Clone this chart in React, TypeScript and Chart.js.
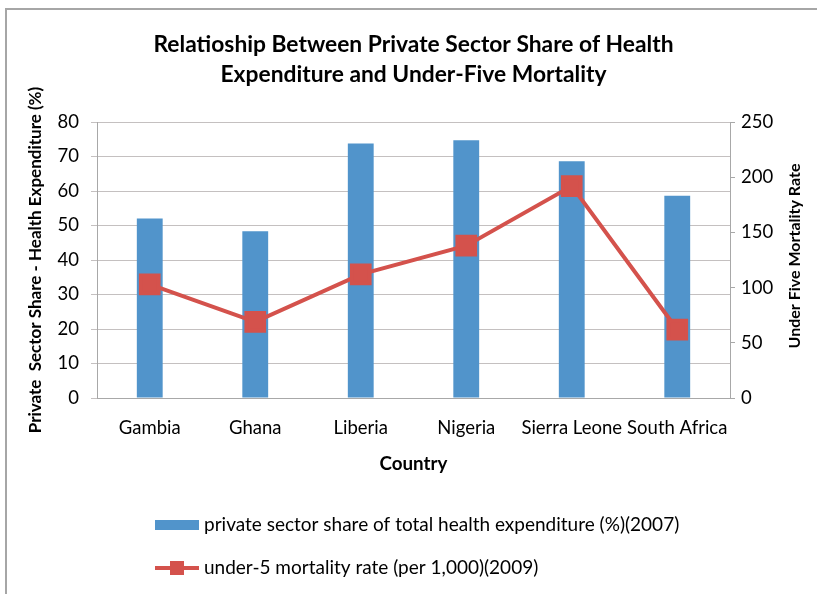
import React, { useEffect, useRef } from 'react';
import { Chart, registerables } from 'chart.js';

Chart.register(...registerables);

const categories = ['Gambia', 'Ghana', 'Liberia', 'Nigeria', 'Sierra Leone', 'South Africa'];
const privateShare = [52, 48.3, 73.8, 74.7, 68.6, 58.6];
const under5Mortality = [103, 69, 112, 138, 192, 62];
const titleLines = ['Relatioship Between Private Sector Share of Health', 'Expenditure and Under-Five Mortality'];
const leftAxisTitle = 'Private  Sector Share - Health Expenditure (%)';
const rightAxisTitle = 'Under Five Mortality Rate';
const xAxisTitle = 'Country';
const barLabel = 'private sector share of total health expenditure (%)(2007)';
const lineLabel = 'under-5 mortality rate (per 1,000)(2009)';

const FONT = 'Lato';
const BAR_COLOR = '#5194cb';
const LINE_COLOR = '#d4524c';
const AXIS_COLOR = '#a8a8a8';
const GRID_COLOR = '#c4c0c0';

const decorPlugin = {
  id: 'decor',
  beforeDraw(chart: any) {
    const ctx = chart.ctx;
    ctx.save();
    ctx.fillStyle = '#a6a6a6';
    ctx.fillRect(5, 8, 2, chart.height - 8);
    ctx.fillRect(5, 8, chart.width - 5, 2);
    ctx.restore();
  },
  afterDraw(chart: any) {
    const ctx = chart.ctx;
    const area = chart.chartArea;
    const y1 = chart.scales.y1;
    ctx.save();
    // right axis title (reads bottom to top)
    ctx.translate(y1.left + 65, (area.top + area.bottom) / 2 - 4);
    ctx.rotate(-Math.PI / 2);
    ctx.font = `bold 16px ${FONT}`;
    ctx.fillStyle = '#000';
    ctx.textAlign = 'center';
    ctx.textBaseline = 'middle';
    ctx.fillText(rightAxisTitle, 0, 0);
    ctx.restore();

    // legend
    const ds = chart.data.datasets;
    const lx = area.left + 58;
    const ly1 = area.bottom + 127;
    const ly2 = area.bottom + 170;
    ctx.save();
    ctx.font = `19px ${FONT}`;
    ctx.textAlign = 'left';
    ctx.textBaseline = 'middle';
    ctx.fillStyle = ds[0].backgroundColor;
    ctx.fillRect(lx, ly1 - 5, 44, 10);
    ctx.strokeStyle = ds[1].borderColor;
    ctx.lineWidth = 4;
    ctx.beginPath();
    ctx.moveTo(lx, ly2);
    ctx.lineTo(lx + 44, ly2);
    ctx.stroke();
    ctx.fillStyle = ds[1].pointBackgroundColor;
    ctx.fillRect(lx + 22 - 7, ly2 - 7, 14, 14);
    ctx.fillStyle = '#000';
    ctx.fillText(ds[0].label, lx + 49, ly1);
    ctx.fillText(ds[1].label, lx + 49, ly2);
    ctx.restore();
  },
};

export default function App() {
  const ref = useRef<HTMLCanvasElement | null>(null);
  useEffect(() => {
    if (!ref.current) return;
    const tickFont = { family: FONT, size: 18.5, lineHeight: 1.2 };
    const chart = new Chart(ref.current, {
      type: 'bar',
      data: {
        labels: categories,
        datasets: [
          {
            type: 'bar',
            label: barLabel,
            data: privateShare,
            backgroundColor: BAR_COLOR,
            borderWidth: 0,
            yAxisID: 'y',
            barPercentage: 0.245,
            categoryPercentage: 1,
            order: 2,
          },
          {
            type: 'line',
            label: lineLabel,
            data: under5Mortality,
            borderColor: LINE_COLOR,
            backgroundColor: LINE_COLOR,
            pointBackgroundColor: LINE_COLOR,
            pointBorderColor: LINE_COLOR,
            pointStyle: 'rect',
            pointRadius: 12.5,
            borderWidth: 4,
            yAxisID: 'y1',
            order: 1,
          } as any,
        ],
      },
      options: {
        responsive: false,
        animation: false,
        layout: { padding: { top: 30, bottom: 118.7, left: 0, right: 0 } },
        plugins: {
          legend: { display: false },
          tooltip: { enabled: false },
          title: {
            display: true,
            text: titleLines,
            fullSize: false,
            color: '#000',
            font: { family: FONT, size: 22.8, weight: 'bold', lineHeight: 1.316 },
            padding: { top: 0, bottom: 32 },
          },
        },
        scales: {
          x: {
            grid: { display: false, drawTicks: false },
            border: { color: AXIS_COLOR },
            ticks: { font: tickFont, color: '#000', padding: 19, autoSkip: false, maxRotation: 0 },
            title: {
              display: true,
              text: xAxisTitle,
              color: '#000',
              font: { family: FONT, size: 18.8, weight: 'bold', lineHeight: 1.2 },
              padding: 0,
            },
            afterFit: (s: any) => {
              s.height = 77.3;
            },
          },
          y: {
            position: 'left',
            min: 0,
            max: 80,
            ticks: { stepSize: 10, font: tickFont, color: '#000', padding: 12 },
            grid: { color: GRID_COLOR, tickLength: 6, drawTicks: true },
            border: { color: AXIS_COLOR },
            title: {
              display: true,
              text: leftAxisTitle,
              color: '#000',
              font: { family: FONT, size: 17, weight: 'bold', lineHeight: 1.2 },
              padding: { top: 25, bottom: 0 },
            },
            afterFit: (s: any) => {
              s.width = 97;
            },
          },
          y1: {
            position: 'right',
            min: 0,
            max: 250,
            ticks: { stepSize: 50, font: tickFont, color: '#000', padding: 6 },
            grid: { drawOnChartArea: false, color: AXIS_COLOR, tickLength: 5, drawTicks: true },
            border: { color: AXIS_COLOR },
            afterFit: (s: any) => {
              s.width = 87;
            },
          },
        },
      },
      plugins: [decorPlugin],
    });
    return () => chart.destroy();
  }, []);
  return (
    <div style={{ position: 'fixed', left: 0, top: 0, width: 817, height: 594, background: '#fff' }}>
      <canvas ref={ref} width={817} height={594} style={{ display: 'block' }} />
    </div>
  );
}
